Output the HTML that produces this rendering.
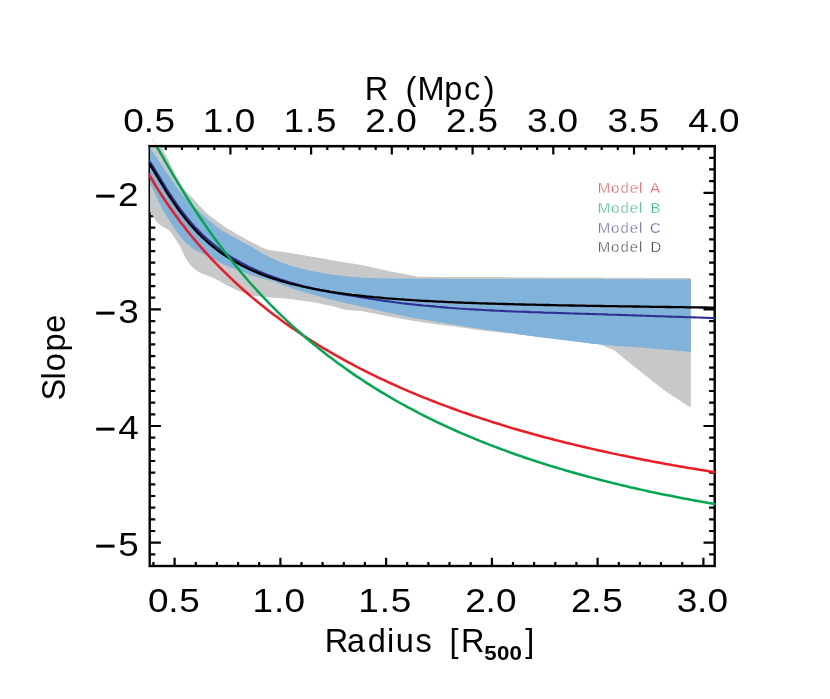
<!DOCTYPE html>
<html><head><meta charset="utf-8"><title>Slope vs Radius</title>
<style>
html,body{margin:0;padding:0;background:#fff;}
body{width:830px;height:699px;position:relative;overflow:hidden;font-family:"Liberation Sans",sans-serif;}
text{font-family:"Liberation Sans",sans-serif;}
svg{opacity:0.999;will-change:transform;}
</style></head><body>
<svg width="830" height="699" viewBox="0 0 830 699" style="position:absolute;left:0;top:0">
<defs><clipPath id="cp"><rect x="150.04999999999998" y="146.1" width="565.0" height="419.9"/></clipPath></defs>
<g stroke="#000" stroke-width="2.4" fill="none" stroke-linecap="butt">
<rect x="149.7" y="146.1" width="565.0" height="419.9" stroke-linejoin="miter"/>
<path d="M153.4,566.0v-4.0M174.6,566.0v-8.3M195.8,566.0v-4.0M216.9,566.0v-4.0M238.1,566.0v-4.0M259.2,566.0v-4.0M280.4,566.0v-8.3M301.5,566.0v-4.0M322.6,566.0v-4.0M343.8,566.0v-4.0M364.9,566.0v-4.0M386.1,566.0v-8.3M407.2,566.0v-4.0M428.4,566.0v-4.0M449.5,566.0v-4.0M470.7,566.0v-4.0M491.9,566.0v-8.3M513.0,566.0v-4.0M534.1,566.0v-4.0M555.3,566.0v-4.0M576.4,566.0v-4.0M597.6,566.0v-8.3M618.8,566.0v-4.0M639.9,566.0v-4.0M661.0,566.0v-4.0M682.2,566.0v-4.0M703.4,566.0v-8.3M165.8,146.1v4.0M182.0,146.1v4.0M198.1,146.1v4.0M214.3,146.1v4.0M230.4,146.1v8.3M246.6,146.1v4.0M262.7,146.1v4.0M278.8,146.1v4.0M295.0,146.1v4.0M311.1,146.1v8.3M327.3,146.1v4.0M343.4,146.1v4.0M359.6,146.1v4.0M375.7,146.1v4.0M391.8,146.1v8.3M408.0,146.1v4.0M424.1,146.1v4.0M440.3,146.1v4.0M456.4,146.1v4.0M472.6,146.1v8.3M488.7,146.1v4.0M504.8,146.1v4.0M521.0,146.1v4.0M537.1,146.1v4.0M553.3,146.1v8.3M569.4,146.1v4.0M585.6,146.1v4.0M601.7,146.1v4.0M617.8,146.1v4.0M634.0,146.1v8.3M650.1,146.1v4.0M666.3,146.1v4.0M682.4,146.1v4.0M698.6,146.1v4.0M149.7,554.3h5.6M714.7,554.3h-5.6M149.7,542.7h11.2M714.7,542.7h-11.2M149.7,531.0h5.6M714.7,531.0h-5.6M149.7,519.3h5.6M714.7,519.3h-5.6M149.7,507.7h5.6M714.7,507.7h-5.6M149.7,496.0h5.6M714.7,496.0h-5.6M149.7,484.4h5.6M714.7,484.4h-5.6M149.7,472.7h5.6M714.7,472.7h-5.6M149.7,461.0h5.6M714.7,461.0h-5.6M149.7,449.4h5.6M714.7,449.4h-5.6M149.7,437.7h5.6M714.7,437.7h-5.6M149.7,426.0h11.2M714.7,426.0h-11.2M149.7,414.4h5.6M714.7,414.4h-5.6M149.7,402.7h5.6M714.7,402.7h-5.6M149.7,391.0h5.6M714.7,391.0h-5.6M149.7,379.4h5.6M714.7,379.4h-5.6M149.7,367.7h5.6M714.7,367.7h-5.6M149.7,356.1h5.6M714.7,356.1h-5.6M149.7,344.4h5.6M714.7,344.4h-5.6M149.7,332.7h5.6M714.7,332.7h-5.6M149.7,321.1h5.6M714.7,321.1h-5.6M149.7,309.4h11.2M714.7,309.4h-11.2M149.7,297.7h5.6M714.7,297.7h-5.6M149.7,286.1h5.6M714.7,286.1h-5.6M149.7,274.4h5.6M714.7,274.4h-5.6M149.7,262.7h5.6M714.7,262.7h-5.6M149.7,251.1h5.6M714.7,251.1h-5.6M149.7,239.4h5.6M714.7,239.4h-5.6M149.7,227.7h5.6M714.7,227.7h-5.6M149.7,216.1h5.6M714.7,216.1h-5.6M149.7,204.4h5.6M714.7,204.4h-5.6M149.7,192.8h11.2M714.7,192.8h-11.2M149.7,181.1h5.6M714.7,181.1h-5.6M149.7,169.4h5.6M714.7,169.4h-5.6M149.7,157.8h5.6M714.7,157.8h-5.6" stroke-width="2.2"/>
</g>
<g clip-path="url(#cp)">
<path d="M148.0,126.0 L150.7,130.0 L153.5,134.2 L156.2,138.6 L158.9,143.1 L161.6,147.7 L164.4,152.6 L167.1,157.6 L169.8,162.9 L172.5,168.7 L175.3,174.5 L178.0,179.7 L180.7,184.4 L183.5,188.4 L186.2,191.7 L188.9,194.5 L191.6,197.1 L194.4,200.0 L197.1,203.0 L199.8,206.1 L202.6,209.1 L205.3,211.8 L208.0,214.2 L210.7,216.4 L213.5,218.5 L216.2,220.6 L218.9,222.6 L221.6,224.6 L224.4,226.5 L227.1,228.3 L229.8,230.0 L232.6,231.6 L235.3,233.2 L238.0,234.7 L240.7,236.2 L243.5,237.7 L246.2,239.2 L248.9,240.7 L251.7,242.2 L254.4,243.6 L257.1,245.1 L259.8,246.5 L262.6,247.7 L265.3,248.8 L268.0,249.7 L270.7,250.2 L273.5,250.6 L276.2,251.0 L278.9,251.4 L281.7,251.8 L284.4,252.2 L287.1,252.6 L289.8,253.0 L292.6,253.5 L295.3,253.9 L298.0,254.3 L300.7,254.8 L303.5,255.3 L306.2,255.7 L308.9,256.2 L311.7,256.7 L314.4,257.1 L317.1,257.6 L319.8,258.1 L322.6,258.6 L325.3,259.0 L328.0,259.5 L330.8,260.0 L333.5,260.5 L336.2,261.0 L338.9,261.4 L341.7,261.9 L344.4,262.3 L347.1,262.8 L349.8,263.2 L352.6,263.6 L355.3,264.0 L358.0,264.5 L360.8,264.9 L363.5,265.5 L366.2,266.0 L368.9,266.6 L371.7,267.2 L374.4,267.9 L377.1,268.5 L379.8,269.1 L382.6,269.7 L385.3,270.2 L388.0,270.8 L390.8,271.4 L393.5,271.9 L396.2,272.5 L398.9,273.0 L401.7,273.5 L404.4,274.1 L407.1,274.6 L409.9,275.1 L412.6,275.6 L415.3,276.2 L418.0,276.7 L420.8,276.7 L423.5,276.8 L426.2,276.8 L428.9,276.8 L431.7,276.9 L434.4,276.9 L437.1,276.9 L439.9,276.9 L442.6,276.9 L445.3,276.9 L448.0,276.9 L450.8,277.0 L453.5,277.0 L456.2,277.0 L459.0,277.0 L461.7,277.0 L464.4,277.0 L467.1,277.0 L469.9,277.0 L472.6,277.0 L475.3,277.0 L478.0,277.0 L480.8,277.0 L483.5,277.0 L486.2,277.1 L489.0,277.1 L491.7,277.1 L494.4,277.1 L497.1,277.1 L499.9,277.1 L502.6,277.1 L505.3,277.1 L508.0,277.2 L510.8,277.2 L513.5,277.2 L516.2,277.2 L519.0,277.2 L521.7,277.2 L524.4,277.2 L527.1,277.3 L529.9,277.3 L532.6,277.3 L535.3,277.3 L538.1,277.3 L540.8,277.3 L543.5,277.3 L546.2,277.4 L549.0,277.4 L551.7,277.4 L554.4,277.4 L557.1,277.4 L559.9,277.4 L562.6,277.4 L565.3,277.5 L568.1,277.5 L570.8,277.5 L573.5,277.5 L576.2,277.5 L579.0,277.5 L581.7,277.5 L584.4,277.6 L587.1,277.6 L589.9,277.6 L592.6,277.6 L595.3,277.6 L598.1,277.6 L600.8,277.6 L603.5,277.7 L606.2,277.7 L609.0,277.7 L611.7,277.7 L614.4,277.7 L617.2,277.7 L619.9,277.7 L622.6,277.8 L625.3,277.8 L628.1,277.8 L630.8,277.8 L633.5,277.8 L636.2,277.8 L639.0,277.8 L641.7,277.8 L644.4,277.9 L647.2,277.9 L649.9,277.9 L652.6,277.9 L655.3,277.9 L658.1,277.9 L660.8,277.9 L663.5,278.0 L666.3,278.0 L669.0,278.0 L671.7,278.0 L674.4,278.0 L677.2,278.0 L679.9,278.0 L682.6,278.1 L685.3,278.1 L688.1,278.1 L690.8,278.1 L690.8,407.8 L688.1,406.0 L685.3,404.2 L682.6,402.4 L679.9,400.6 L677.2,398.8 L674.4,397.1 L671.7,395.3 L669.0,393.5 L666.3,391.7 L663.5,389.9 L660.8,387.8 L658.1,385.5 L655.3,383.3 L652.6,381.2 L649.9,379.0 L647.2,376.8 L644.4,374.7 L641.7,372.5 L639.0,370.3 L636.2,368.1 L633.5,366.0 L630.8,363.8 L628.1,361.6 L625.3,359.4 L622.6,357.3 L619.9,355.1 L617.2,352.8 L614.4,350.5 L611.7,349.1 L609.0,348.0 L606.2,347.0 L603.5,345.8 L600.8,344.7 L598.1,344.2 L595.3,343.8 L592.6,343.5 L589.9,343.2 L587.1,342.8 L584.4,342.5 L581.7,342.2 L579.0,341.9 L576.2,341.6 L573.5,341.2 L570.8,340.9 L568.1,340.6 L565.3,340.2 L562.6,339.9 L559.9,339.6 L557.1,339.2 L554.4,338.8 L551.7,338.5 L549.0,338.1 L546.2,337.8 L543.5,337.4 L540.8,337.1 L538.1,336.7 L535.3,336.4 L532.6,336.0 L529.9,335.7 L527.1,335.4 L524.4,335.0 L521.7,334.7 L519.0,334.4 L516.2,334.1 L513.5,333.8 L510.8,333.5 L508.0,333.2 L505.3,332.9 L502.6,332.7 L499.9,332.4 L497.1,332.1 L494.4,331.8 L491.7,331.5 L489.0,331.2 L486.2,330.9 L483.5,330.6 L480.8,330.3 L478.0,329.9 L475.3,329.6 L472.6,329.2 L469.9,328.8 L467.1,328.3 L464.4,327.9 L461.7,327.5 L459.0,327.2 L456.2,326.8 L453.5,326.4 L450.8,326.1 L448.0,325.7 L445.3,325.4 L442.6,325.1 L439.9,324.7 L437.1,324.4 L434.4,324.0 L431.7,323.6 L428.9,323.2 L426.2,322.8 L423.5,322.4 L420.8,322.0 L418.0,321.6 L415.3,321.2 L412.6,320.7 L409.9,320.3 L407.1,319.8 L404.4,319.3 L401.7,318.8 L398.9,318.3 L396.2,317.8 L393.5,317.3 L390.8,316.8 L388.0,316.2 L385.3,315.7 L382.6,315.2 L379.8,314.7 L377.1,314.1 L374.4,313.5 L371.7,313.0 L368.9,312.4 L366.2,311.9 L363.5,311.5 L360.8,311.1 L358.0,310.8 L355.3,310.6 L352.6,310.4 L349.8,310.1 L347.1,309.9 L344.4,309.5 L341.7,308.8 L338.9,308.0 L336.2,307.3 L333.5,306.6 L330.8,306.0 L328.0,305.3 L325.3,304.7 L322.6,304.1 L319.8,303.6 L317.1,303.0 L314.4,302.5 L311.7,302.0 L308.9,301.6 L306.2,301.2 L303.5,300.8 L300.7,300.4 L298.0,300.0 L295.3,299.7 L292.6,299.3 L289.8,299.0 L287.1,298.8 L284.4,298.5 L281.7,298.3 L278.9,298.1 L276.2,297.9 L273.5,297.7 L270.7,297.5 L268.0,297.3 L265.3,297.1 L262.6,296.8 L259.8,296.6 L257.1,296.2 L254.4,295.9 L251.7,295.4 L248.9,294.6 L246.2,293.7 L243.5,292.8 L240.7,291.8 L238.0,290.6 L235.3,289.4 L232.6,288.1 L229.8,286.8 L227.1,285.4 L224.4,283.9 L221.6,282.3 L218.9,280.8 L216.2,279.5 L213.5,278.1 L210.7,276.9 L208.0,275.7 L205.3,274.8 L202.6,273.9 L199.8,272.6 L197.1,271.0 L194.4,268.9 L191.6,266.2 L188.9,263.0 L186.2,259.0 L183.5,253.7 L180.7,247.5 L178.0,242.9 L175.3,238.9 L172.5,234.6 L169.8,230.9 L167.1,229.1 L164.4,227.8 L161.6,226.1 L158.9,223.9 L156.2,221.0 L153.5,216.9 L150.7,212.6 L148.0,209.5Z" fill="#c7c8ca"/>
<path d="M148.0,145.0 L150.7,148.9 L153.5,152.9 L156.2,156.9 L158.9,160.9 L161.6,165.0 L164.4,169.1 L167.1,173.2 L169.8,177.1 L172.5,181.1 L175.3,185.1 L178.0,189.0 L180.7,192.5 L183.5,195.8 L186.2,198.9 L188.9,201.9 L191.6,204.6 L194.4,207.2 L197.1,209.7 L199.8,212.2 L202.6,214.6 L205.3,217.0 L208.0,219.4 L210.7,221.7 L213.5,224.0 L216.2,226.1 L218.9,228.1 L221.6,229.9 L224.4,231.7 L227.1,233.3 L229.8,235.0 L232.6,236.6 L235.3,238.1 L238.0,239.6 L240.7,241.2 L243.5,242.7 L246.2,244.1 L248.9,245.6 L251.7,247.1 L254.4,248.7 L257.1,250.3 L259.8,251.9 L262.6,253.5 L265.3,255.0 L268.0,256.5 L270.7,257.9 L273.5,259.1 L276.2,260.3 L278.9,261.4 L281.7,262.5 L284.4,263.5 L287.1,264.5 L289.8,265.4 L292.6,266.2 L295.3,267.0 L298.0,267.8 L300.7,268.5 L303.5,269.2 L306.2,269.8 L308.9,270.4 L311.7,271.0 L314.4,271.5 L317.1,272.0 L319.8,272.5 L322.6,273.0 L325.3,273.5 L328.0,274.0 L330.8,274.4 L333.5,274.8 L336.2,275.1 L338.9,275.4 L341.7,275.7 L344.4,276.0 L347.1,276.3 L349.8,276.6 L352.6,276.9 L355.3,277.1 L358.0,277.3 L360.8,277.5 L363.5,277.7 L366.2,277.8 L368.9,278.0 L371.7,278.0 L374.4,278.1 L377.1,278.2 L379.8,278.2 L382.6,278.3 L385.3,278.3 L388.0,278.4 L390.8,278.4 L393.5,278.4 L396.2,278.5 L398.9,278.5 L401.7,278.5 L404.4,278.6 L407.1,278.6 L409.9,278.6 L412.6,278.6 L415.3,278.7 L418.0,278.7 L420.8,278.7 L423.5,278.7 L426.2,278.7 L428.9,278.8 L431.7,278.8 L434.4,278.8 L437.1,278.8 L439.9,278.8 L442.6,278.8 L445.3,278.8 L448.0,278.9 L450.8,278.9 L453.5,278.9 L456.2,278.9 L459.0,278.9 L461.7,278.9 L464.4,278.9 L467.1,278.9 L469.9,278.9 L472.6,278.9 L475.3,278.9 L478.0,279.0 L480.8,279.0 L483.5,279.0 L486.2,279.0 L489.0,279.0 L491.7,279.0 L494.4,279.0 L497.1,279.0 L499.9,279.0 L502.6,279.0 L505.3,279.0 L508.0,279.0 L510.8,279.0 L513.5,279.0 L516.2,279.0 L519.0,279.0 L521.7,279.0 L524.4,279.0 L527.1,279.0 L529.9,279.0 L532.6,279.1 L535.3,279.1 L538.1,279.1 L540.8,279.1 L543.5,279.1 L546.2,279.1 L549.0,279.1 L551.7,279.1 L554.4,279.1 L557.1,279.1 L559.9,279.1 L562.6,279.1 L565.3,279.1 L568.1,279.1 L570.8,279.1 L573.5,279.1 L576.2,279.1 L579.0,279.1 L581.7,279.1 L584.4,279.1 L587.1,279.1 L589.9,279.1 L592.6,279.1 L595.3,279.1 L598.1,279.1 L600.8,279.1 L603.5,279.1 L606.2,279.2 L609.0,279.2 L611.7,279.2 L614.4,279.2 L617.2,279.2 L619.9,279.2 L622.6,279.2 L625.3,279.2 L628.1,279.2 L630.8,279.2 L633.5,279.2 L636.2,279.2 L639.0,279.2 L641.7,279.2 L644.4,279.2 L647.2,279.2 L649.9,279.2 L652.6,279.2 L655.3,279.2 L658.1,279.2 L660.8,279.2 L663.5,279.2 L666.3,279.2 L669.0,279.2 L671.7,279.2 L674.4,279.2 L677.2,279.2 L679.9,279.2 L682.6,279.2 L685.3,279.2 L688.1,279.2 L690.8,279.2 L690.8,352.1 L688.1,351.8 L685.3,351.5 L682.6,351.3 L679.9,351.0 L677.2,350.7 L674.4,350.5 L671.7,350.2 L669.0,350.0 L666.3,349.7 L663.5,349.5 L660.8,349.2 L658.1,349.0 L655.3,348.7 L652.6,348.5 L649.9,348.3 L647.2,348.0 L644.4,347.8 L641.7,347.6 L639.0,347.4 L636.2,347.2 L633.5,347.0 L630.8,346.8 L628.1,346.6 L625.3,346.4 L622.6,346.2 L619.9,346.1 L617.2,345.9 L614.4,345.7 L611.7,345.5 L609.0,345.3 L606.2,345.1 L603.5,344.8 L600.8,344.6 L598.1,344.3 L595.3,344.0 L592.6,343.7 L589.9,343.4 L587.1,343.0 L584.4,342.7 L581.7,342.3 L579.0,342.0 L576.2,341.6 L573.5,341.3 L570.8,340.9 L568.1,340.6 L565.3,340.2 L562.6,339.9 L559.9,339.6 L557.1,339.2 L554.4,338.9 L551.7,338.6 L549.0,338.2 L546.2,337.9 L543.5,337.6 L540.8,337.2 L538.1,336.9 L535.3,336.5 L532.6,336.2 L529.9,335.8 L527.1,335.5 L524.4,335.1 L521.7,334.7 L519.0,334.4 L516.2,334.0 L513.5,333.5 L510.8,333.1 L508.0,332.7 L505.3,332.3 L502.6,331.9 L499.9,331.5 L497.1,331.1 L494.4,330.7 L491.7,330.4 L489.0,330.1 L486.2,329.7 L483.5,329.4 L480.8,329.0 L478.0,328.6 L475.3,328.2 L472.6,327.8 L469.9,327.3 L467.1,326.9 L464.4,326.4 L461.7,326.0 L459.0,325.5 L456.2,325.1 L453.5,324.6 L450.8,324.2 L448.0,323.7 L445.3,323.3 L442.6,322.8 L439.9,322.4 L437.1,321.9 L434.4,321.5 L431.7,321.0 L428.9,320.5 L426.2,320.1 L423.5,319.6 L420.8,319.2 L418.0,318.7 L415.3,318.2 L412.6,317.7 L409.9,317.2 L407.1,316.7 L404.4,316.1 L401.7,315.6 L398.9,315.0 L396.2,314.4 L393.5,313.8 L390.8,313.2 L388.0,312.6 L385.3,312.0 L382.6,311.4 L379.8,310.7 L377.1,310.1 L374.4,309.5 L371.7,308.8 L368.9,308.2 L366.2,307.6 L363.5,307.0 L360.8,306.4 L358.0,305.8 L355.3,305.2 L352.6,304.6 L349.8,304.0 L347.1,303.4 L344.4,302.8 L341.7,302.1 L338.9,301.5 L336.2,300.8 L333.5,300.1 L330.8,299.4 L328.0,298.7 L325.3,298.0 L322.6,297.2 L319.8,296.5 L317.1,295.7 L314.4,295.0 L311.7,294.2 L308.9,293.5 L306.2,292.7 L303.5,291.9 L300.7,291.1 L298.0,290.3 L295.3,289.4 L292.6,288.5 L289.8,287.6 L287.1,286.6 L284.4,285.7 L281.7,284.7 L278.9,283.6 L276.2,282.5 L273.5,281.4 L270.7,280.5 L268.0,279.8 L265.3,279.2 L262.6,278.6 L259.8,277.9 L257.1,277.1 L254.4,276.3 L251.7,275.4 L248.9,274.4 L246.2,273.3 L243.5,272.3 L240.7,271.2 L238.0,270.2 L235.3,269.2 L232.6,268.1 L229.8,266.9 L227.1,265.8 L224.4,264.7 L221.6,263.5 L218.9,262.2 L216.2,260.9 L213.5,259.5 L210.7,258.0 L208.0,256.6 L205.3,255.1 L202.6,253.7 L199.8,252.3 L197.1,250.9 L194.4,249.4 L191.6,247.5 L188.9,245.3 L186.2,242.9 L183.5,240.1 L180.7,237.1 L178.0,233.6 L175.3,229.8 L172.5,225.6 L169.8,221.2 L167.1,216.8 L164.4,212.5 L161.6,207.6 L158.9,202.2 L156.2,196.6 L153.5,190.4 L150.7,185.1 L148.0,182.0Z" fill="#80b2da"/>
</g>
<g fill="none" stroke-width="2.5" clip-path="url(#cp2)">
<clipPath id="cp2"><rect x="148.7" y="146.1" width="567.0" height="419.9"/></clipPath>
<path d="M148.7,160.0 L152.3,165.4 L155.8,171.2 L159.4,177.1 L163.0,183.0 L166.5,188.8 L170.1,194.4 L173.7,199.8 L177.2,204.9 L180.8,209.9 L184.4,214.5 L187.9,218.9 L191.5,223.1 L195.1,227.1 L198.6,230.8 L202.2,234.4 L205.8,237.7 L209.3,240.9 L212.9,243.9 L216.5,246.8 L220.0,249.5 L223.6,252.0 L227.2,254.5 L230.7,256.8 L234.3,258.9 L237.9,261.0 L241.4,263.0 L245.0,264.8 L248.5,266.6 L252.1,268.3 L255.7,269.9 L259.2,271.5 L262.8,272.9 L266.4,274.4 L269.9,275.7 L273.5,277.0 L277.1,278.3 L280.6,279.5 L284.2,280.6 L287.8,281.8 L291.3,282.8 L294.9,283.8 L298.5,284.8 L302.0,285.8 L305.6,286.7 L309.2,287.6 L312.7,288.4 L316.3,289.3 L319.9,290.0 L323.4,290.7 L327.0,291.4 L330.6,292.1 L334.1,292.8 L337.7,293.4 L341.3,294.0 L344.8,294.6 L348.4,295.2 L352.0,295.7 L355.5,296.3 L359.1,296.9 L362.7,297.4 L366.2,298.0 L369.8,298.6 L373.4,299.2 L376.9,299.8 L380.5,300.3 L384.1,300.9 L387.6,301.3 L391.2,301.8 L394.8,302.3 L398.3,302.7 L401.9,303.2 L405.5,303.6 L409.0,304.0 L412.6,304.4 L416.2,304.7 L419.7,305.1 L423.3,305.5 L426.9,305.8 L430.4,306.1 L434.0,306.4 L437.5,306.8 L441.1,307.1 L444.7,307.4 L448.2,307.7 L451.8,308.0 L455.4,308.2 L458.9,308.5 L462.5,308.7 L466.1,309.0 L469.6,309.2 L473.2,309.4 L476.8,309.6 L480.3,309.8 L483.9,310.0 L487.5,310.2 L491.0,310.4 L494.6,310.6 L498.2,310.7 L501.7,310.9 L505.3,311.1 L508.9,311.2 L512.4,311.4 L516.0,311.5 L519.6,311.7 L523.1,311.8 L526.7,311.9 L530.3,312.1 L533.8,312.2 L537.4,312.3 L541.0,312.4 L544.5,312.6 L548.1,312.7 L551.7,312.8 L555.2,312.9 L558.8,313.0 L562.4,313.1 L565.9,313.2 L569.5,313.4 L573.1,313.5 L576.6,313.6 L580.2,313.7 L583.8,313.8 L587.3,313.9 L590.9,314.0 L594.5,314.1 L598.0,314.2 L601.6,314.3 L605.2,314.4 L608.7,314.6 L612.3,314.7 L615.9,314.8 L619.4,314.9 L623.0,315.0 L626.5,315.1 L630.1,315.3 L633.7,315.4 L637.2,315.5 L640.8,315.6 L644.4,315.8 L647.9,315.9 L651.5,316.0 L655.1,316.1 L658.6,316.2 L662.2,316.3 L665.8,316.5 L669.3,316.6 L672.9,316.7 L676.5,316.8 L680.0,316.9 L683.6,317.0 L687.2,317.2 L690.7,317.3 L694.3,317.4 L697.9,317.5 L701.4,317.6 L705.0,317.7 L708.6,317.9 L712.1,318.0 L715.7,318.1" stroke="#2e3192" stroke-width="2.1"/>
<path d="M148.7,163.0 L152.3,168.4 L155.8,174.2 L159.4,180.1 L163.0,186.0 L166.5,191.8 L170.1,197.4 L173.7,202.7 L177.2,207.9 L180.8,212.8 L184.4,217.4 L187.9,221.8 L191.5,226.0 L195.1,229.9 L198.6,233.6 L202.2,237.2 L205.8,240.5 L209.3,243.6 L212.9,246.6 L216.5,249.4 L220.0,252.0 L223.6,254.5 L227.2,256.9 L230.7,259.2 L234.3,261.3 L237.9,263.3 L241.4,265.2 L245.0,267.0 L248.5,268.7 L252.1,270.4 L255.7,271.9 L259.2,273.4 L262.8,274.8 L266.4,276.1 L269.9,277.4 L273.5,278.6 L277.1,279.7 L280.6,280.8 L284.2,281.8 L287.8,282.8 L291.3,283.8 L294.9,284.7 L298.5,285.5 L302.0,286.4 L305.6,287.1 L309.2,287.9 L312.7,288.6 L316.3,289.3 L319.9,290.0 L323.4,290.6 L327.0,291.2 L330.6,291.8 L334.1,292.3 L337.7,292.8 L341.3,293.4 L344.8,293.8 L348.4,294.3 L352.0,294.8 L355.5,295.2 L359.1,295.6 L362.7,296.0 L366.2,296.4 L369.8,296.7 L373.4,297.1 L376.9,297.4 L380.5,297.7 L384.1,298.1 L387.6,298.4 L391.2,298.6 L394.8,298.9 L398.3,299.2 L401.9,299.4 L405.5,299.7 L409.0,299.9 L412.6,300.2 L416.2,300.4 L419.7,300.6 L423.3,300.8 L426.9,301.0 L430.4,301.2 L434.0,301.4 L437.5,301.6 L441.1,301.7 L444.7,301.9 L448.2,302.1 L451.8,302.2 L455.4,302.4 L458.9,302.5 L462.5,302.6 L466.1,302.8 L469.6,302.9 L473.2,303.0 L476.8,303.2 L480.3,303.3 L483.9,303.4 L487.5,303.5 L491.0,303.6 L494.6,303.7 L498.2,303.8 L501.7,303.9 L505.3,304.0 L508.9,304.1 L512.4,304.2 L516.0,304.3 L519.6,304.4 L523.1,304.5 L526.7,304.6 L530.3,304.7 L533.8,304.7 L537.4,304.8 L541.0,304.9 L544.5,305.0 L548.1,305.0 L551.7,305.1 L555.2,305.2 L558.8,305.3 L562.4,305.3 L565.9,305.4 L569.5,305.5 L573.1,305.5 L576.6,305.6 L580.2,305.6 L583.8,305.7 L587.3,305.8 L590.9,305.8 L594.5,305.9 L598.0,305.9 L601.6,306.0 L605.2,306.1 L608.7,306.1 L612.3,306.2 L615.9,306.2 L619.4,306.3 L623.0,306.3 L626.5,306.4 L630.1,306.4 L633.7,306.5 L637.2,306.5 L640.8,306.6 L644.4,306.7 L647.9,306.7 L651.5,306.8 L655.1,306.8 L658.6,306.9 L662.2,306.9 L665.8,307.0 L669.3,307.0 L672.9,307.1 L676.5,307.1 L680.0,307.2 L683.6,307.2 L687.2,307.3 L690.7,307.3 L694.3,307.4 L697.9,307.4 L701.4,307.5 L705.0,307.5 L708.6,307.6 L712.1,307.6 L715.7,307.7" stroke="#000" stroke-width="2.3"/>
<path d="M148.7,173.9 L152.3,180.0 L155.8,186.0 L159.4,191.7 L163.0,197.2 L166.5,202.5 L170.1,207.7 L173.7,212.8 L177.2,217.6 L180.8,222.4 L184.4,227.1 L187.9,231.6 L191.5,236.0 L195.1,240.3 L198.6,244.5 L202.2,248.6 L205.8,252.6 L209.3,256.5 L212.9,260.3 L216.5,264.0 L220.0,267.7 L223.6,271.2 L227.2,274.7 L230.7,278.2 L234.3,281.5 L237.9,284.8 L241.4,288.0 L245.0,291.2 L248.5,294.3 L252.1,297.4 L255.7,300.3 L259.2,303.3 L262.8,306.1 L266.4,309.0 L269.9,311.7 L273.5,314.5 L277.1,317.1 L280.6,319.8 L284.2,322.4 L287.8,324.9 L291.3,327.4 L294.9,329.8 L298.5,332.3 L302.0,334.6 L305.6,337.0 L309.2,339.3 L312.7,341.5 L316.3,343.8 L319.9,346.0 L323.4,348.1 L327.0,350.2 L330.6,352.3 L334.1,354.4 L337.7,356.4 L341.3,358.4 L344.8,360.4 L348.4,362.3 L352.0,364.2 L355.5,366.1 L359.1,368.0 L362.7,369.8 L366.2,371.6 L369.8,373.4 L373.4,375.1 L376.9,376.9 L380.5,378.6 L384.1,380.2 L387.6,381.9 L391.2,383.5 L394.8,385.1 L398.3,386.7 L401.9,388.3 L405.5,389.9 L409.0,391.4 L412.6,392.9 L416.2,394.4 L419.7,395.8 L423.3,397.3 L426.9,398.7 L430.4,400.1 L434.0,401.5 L437.5,402.9 L441.1,404.3 L444.7,405.6 L448.2,406.9 L451.8,408.2 L455.4,409.5 L458.9,410.8 L462.5,412.1 L466.1,413.3 L469.6,414.5 L473.2,415.7 L476.8,416.9 L480.3,418.1 L483.9,419.3 L487.5,420.4 L491.0,421.6 L494.6,422.7 L498.2,423.8 L501.7,424.9 L505.3,426.0 L508.9,427.1 L512.4,428.2 L516.0,429.2 L519.6,430.2 L523.1,431.3 L526.7,432.3 L530.3,433.3 L533.8,434.3 L537.4,435.2 L541.0,436.2 L544.5,437.2 L548.1,438.1 L551.7,439.0 L555.2,440.0 L558.8,440.9 L562.4,441.8 L565.9,442.7 L569.5,443.5 L573.1,444.4 L576.6,445.3 L580.2,446.1 L583.8,447.0 L587.3,447.8 L590.9,448.6 L594.5,449.4 L598.0,450.2 L601.6,451.0 L605.2,451.8 L608.7,452.6 L612.3,453.4 L615.9,454.1 L619.4,454.9 L623.0,455.6 L626.5,456.3 L630.1,457.1 L633.7,457.8 L637.2,458.5 L640.8,459.2 L644.4,459.9 L647.9,460.6 L651.5,461.3 L655.1,461.9 L658.6,462.6 L662.2,463.3 L665.8,463.9 L669.3,464.5 L672.9,465.2 L676.5,465.8 L680.0,466.4 L683.6,467.0 L687.2,467.7 L690.7,468.3 L694.3,468.8 L697.9,469.4 L701.4,470.0 L705.0,470.6 L708.6,471.2 L712.1,471.7 L715.7,472.3" stroke="#ed1c24"/>
<path d="M148.7,132.2 L152.3,138.5 L155.8,144.9 L159.4,151.2 L163.0,157.4 L166.5,163.6 L170.1,169.7 L173.7,175.8 L177.2,181.7 L180.8,187.6 L184.4,193.4 L187.9,199.0 L191.5,204.6 L195.1,210.1 L198.6,215.5 L202.2,220.8 L205.8,225.9 L209.3,231.0 L212.9,236.0 L216.5,240.9 L220.0,245.7 L223.6,250.4 L227.2,255.0 L230.7,259.6 L234.3,264.0 L237.9,268.4 L241.4,272.7 L245.0,276.9 L248.5,281.0 L252.1,285.0 L255.7,289.0 L259.2,292.9 L262.8,296.7 L266.4,300.4 L269.9,304.1 L273.5,307.7 L277.1,311.3 L280.6,314.8 L284.2,318.2 L287.8,321.6 L291.3,324.9 L294.9,328.1 L298.5,331.3 L302.0,334.4 L305.6,337.5 L309.2,340.5 L312.7,343.5 L316.3,346.4 L319.9,349.3 L323.4,352.1 L327.0,354.9 L330.6,357.6 L334.1,360.3 L337.7,363.0 L341.3,365.6 L344.8,368.1 L348.4,370.6 L352.0,373.1 L355.5,375.6 L359.1,377.9 L362.7,380.3 L366.2,382.6 L369.8,384.9 L373.4,387.2 L376.9,389.4 L380.5,391.6 L384.1,393.7 L387.6,395.8 L391.2,397.9 L394.8,400.0 L398.3,402.0 L401.9,404.0 L405.5,405.9 L409.0,407.8 L412.6,409.7 L416.2,411.6 L419.7,413.5 L423.3,415.3 L426.9,417.1 L430.4,418.8 L434.0,420.6 L437.5,422.3 L441.1,424.0 L444.7,425.7 L448.2,427.3 L451.8,428.9 L455.4,430.5 L458.9,432.1 L462.5,433.6 L466.1,435.2 L469.6,436.7 L473.2,438.2 L476.8,439.6 L480.3,441.1 L483.9,442.5 L487.5,443.9 L491.0,445.3 L494.6,446.7 L498.2,448.0 L501.7,449.3 L505.3,450.7 L508.9,452.0 L512.4,453.2 L516.0,454.5 L519.6,455.7 L523.1,457.0 L526.7,458.2 L530.3,459.4 L533.8,460.5 L537.4,461.7 L541.0,462.9 L544.5,464.0 L548.1,465.1 L551.7,466.2 L555.2,467.3 L558.8,468.4 L562.4,469.4 L565.9,470.5 L569.5,471.5 L573.1,472.5 L576.6,473.5 L580.2,474.5 L583.8,475.5 L587.3,476.5 L590.9,477.4 L594.5,478.4 L598.0,479.3 L601.6,480.2 L605.2,481.1 L608.7,482.0 L612.3,482.9 L615.9,483.8 L619.4,484.6 L623.0,485.5 L626.5,486.3 L630.1,487.2 L633.7,488.0 L637.2,488.8 L640.8,489.6 L644.4,490.4 L647.9,491.2 L651.5,491.9 L655.1,492.7 L658.6,493.4 L662.2,494.2 L665.8,494.9 L669.3,495.6 L672.9,496.3 L676.5,497.0 L680.0,497.7 L683.6,498.4 L687.2,499.1 L690.7,499.8 L694.3,500.4 L697.9,501.1 L701.4,501.7 L705.0,502.3 L708.6,503.0 L712.1,503.6 L715.7,504.2" stroke="#00a651"/>
</g>
<path d="M152.3,139.2L156.2,145.2" stroke="#cfdccb" stroke-width="0.7" fill="none"/>
<path d="M148.5,146.1H715.9000000000001" stroke="#000" stroke-width="2.4"/>
<text x="110.02 128.27 138.00" y="131.8" font-size="33.0" transform="scale(1.12,1)" >0.5</text>
<text x="181.10 200.34 209.59" y="131.8" font-size="33.0" transform="scale(1.12,1)" >1.0</text>
<text x="253.17 272.41 282.13" y="131.8" font-size="33.0" transform="scale(1.12,1)" >1.5</text>
<text x="326.22 344.47 353.72" y="131.8" font-size="33.0" transform="scale(1.12,1)" >2.0</text>
<text x="398.29 416.54 426.26" y="131.8" font-size="33.0" transform="scale(1.12,1)" >2.5</text>
<text x="470.45 488.60 497.85" y="131.8" font-size="33.0" transform="scale(1.12,1)" >3.0</text>
<text x="542.51 560.67 570.40" y="131.8" font-size="33.0" transform="scale(1.12,1)" >3.5</text>
<text x="614.59 632.74 641.98" y="131.8" font-size="33.0" transform="scale(1.12,1)" >4.0</text>
<text x="132.07 150.33 160.05" y="612.4" font-size="33.0" transform="scale(1.12,1)" >0.5</text>
<text x="225.51 244.75 253.99" y="612.4" font-size="33.0" transform="scale(1.12,1)" >1.0</text>
<text x="319.93 339.17 348.89" y="612.4" font-size="33.0" transform="scale(1.12,1)" >1.5</text>
<text x="415.33 433.59 442.83" y="612.4" font-size="33.0" transform="scale(1.12,1)" >2.0</text>
<text x="509.75 528.01 537.73" y="612.4" font-size="33.0" transform="scale(1.12,1)" >2.5</text>
<text x="604.27 622.42 631.67" y="612.4" font-size="33.0" transform="scale(1.12,1)" >3.0</text>
<text y="206.1" font-size="33.0" transform="scale(1.12,1)"><tspan x="84.20" dy="1.2" stroke="#000" stroke-width="0.35">−</tspan><tspan x="105.47" dy="-1.2">2</tspan></text>
<text y="322.7" font-size="33.0" transform="scale(1.12,1)"><tspan x="84.20" dy="1.2" stroke="#000" stroke-width="0.35">−</tspan><tspan x="105.56" dy="-1.2">3</tspan></text>
<text y="439.3" font-size="33.0" transform="scale(1.12,1)"><tspan x="84.20" dy="1.2" stroke="#000" stroke-width="0.35">−</tspan><tspan x="105.57" dy="-1.2">4</tspan></text>
<text y="556.0" font-size="33.0" transform="scale(1.12,1)"><tspan x="84.20" dy="1.2" stroke="#000" stroke-width="0.35">−</tspan><tspan x="105.50" dy="-1.2">5</tspan></text>
<text x="364.69 388.16 405.38 417.41 444.20 464.06 483.80" y="99.7" font-size="32.5" >R (Mpc)</text>
<g transform="translate(64.7,398) rotate(-90)">
<text x="-2.58 18.53 26.71 46.45 65.39" y="0" font-size="32.5" >Slope</text>
</g>
<text x="324.84 346.97 367.68 387.10 395.74 415.41 431.66 449.40 461.04" y="652.1" font-size="32.5" >Radius [R</text>
<text x="421.19 432.18 443.14" y="659.8" font-size="19.4" font-weight="bold" transform="scale(1.15,1)" >500</text>
<text x="525.32" y="652.1" font-size="32.5" >]</text>
<text y="193.2" font-size="14.9" fill="#ed1c24" fill-opacity="0.85" stroke="#fff" stroke-width="0.4"><tspan x="597.7" textLength="44.6" lengthAdjust="spacing">Model</tspan><tspan x="650.0"> </tspan><tspan x="650.0">A</tspan></text>
<text y="212.8" font-size="14.9" fill="#00a651" fill-opacity="0.85" stroke="#fff" stroke-width="0.4"><tspan x="597.7" textLength="44.6" lengthAdjust="spacing">Model</tspan><tspan x="650.5"> </tspan><tspan x="650.5">B</tspan></text>
<text y="232.5" font-size="14.9" fill="#2e3192" fill-opacity="0.85" stroke="#fff" stroke-width="0.4"><tspan x="597.7" textLength="44.6" lengthAdjust="spacing">Model</tspan><tspan x="650.1"> </tspan><tspan x="650.1">C</tspan></text>
<text y="252.1" font-size="14.9" fill="#111" fill-opacity="0.85" stroke="#fff" stroke-width="0.4"><tspan x="597.7" textLength="44.6" lengthAdjust="spacing">Model</tspan><tspan x="650.5"> </tspan><tspan x="650.5">D</tspan></text>
</svg>
</body></html>
